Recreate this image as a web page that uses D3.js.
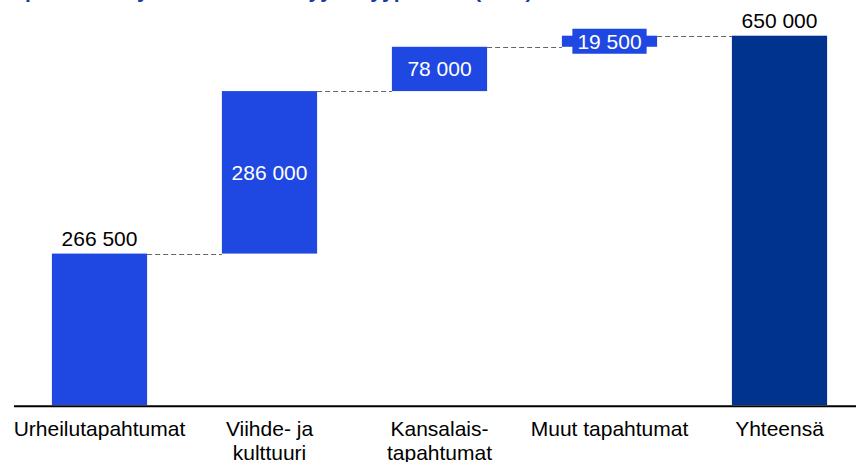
<!DOCTYPE html>
<html>
<head>
<meta charset="utf-8">
<script src="https://cdn.jsdelivr.net/npm/d3@7"></script>
<style>
  body { margin: 0; background: #fff; }
  svg { display: block; font-family: Arial, "Liberation Sans", sans-serif; }
</style>
</head>
<body>
<div id="chart"></div>
<script>
const categories = ['Urheilutapahtumat', 'Viihde- ja kulttuuri', 'Kansalais-tapahtumat', 'Muut tapahtumat', 'Yhteensä'];
const tickLines = [['Urheilutapahtumat'], ['Viihde- ja', 'kulttuuri'], ['Kansalais-', 'tapahtumat'], ['Muut tapahtumat'], ['Yhteensä']];
const values = [266500, 286000, 78000, 19500, 650000];
const isTotal = [false, false, false, false, true];
const titleText = 'Tapahtumien yhteenlaskettu myynti tyypeittäin (EUR)';

document.addEventListener('DOMContentLoaded', function() {
    const width = 856, height = 462;
    const blue = '#1f47e1', navy = '#00338d';

    const svg = d3.select('#chart').append('svg')
        .attr('width', width)
        .attr('height', height);

    // waterfall steps
    let running = 0;
    const steps = values.map((v, i) => {
        if (isTotal[i]) return { cat: categories[i], v: v, y0: 0, y1: v, total: true };
        const s = { cat: categories[i], v: v, y0: running, y1: running + v, total: false };
        running += v;
        return s;
    });

    const x = d3.scaleBand()
        .domain(categories)
        .range([14.5, 864.5])
        .paddingInner(0.44)
        .paddingOuter(0.22);

    const y = d3.scaleLinear()
        .domain([0, d3.max(values)])
        .range([405, 35.7]);

    const fmt = d3.formatLocale({ thousands: ' ', grouping: [3], decimal: ',', currency: ['', ''] }).format(',');

    // title (mostly cut off at the top, only descenders show)
    svg.append('text')
        .attr('x', 2)
        .attr('y', -2)
        .attr('fill', '#1a3a9e')
        .style('font-size', '21px')
        .style('font-weight', 'bold')
        .text(titleText);

    // connectors
    svg.append('g').selectAll('line')
        .data(steps.slice(0, -1))
        .enter()
        .append('line')
        .attr('x1', d => x(d.cat) + x.bandwidth())
        .attr('x2', (d, i) => x(steps[i + 1].cat))
        .attr('y1', d => Math.round(y(d.y1)) + 0.5)
        .attr('y2', d => Math.round(y(d.y1)) + 0.5)
        .attr('stroke', '#666')
        .attr('stroke-width', 1)
        .attr('stroke-dasharray', '5,3');

    // bars
    svg.append('g').selectAll('rect')
        .data(steps)
        .enter()
        .append('rect')
        .attr('x', d => x(d.cat))
        .attr('y', d => y(d.y1))
        .attr('width', x.bandwidth())
        .attr('height', d => y(d.y0) - y(d.y1))
        .attr('fill', d => d.total ? navy : blue);

    // axis line
    svg.append('line')
        .attr('x1', 14)
        .attr('x2', width)
        .attr('y1', 406.3)
        .attr('y2', 406.3)
        .attr('stroke', '#000')
        .attr('stroke-width', 2);

    // value labels
    const labels = svg.append('g').style('font-size', '21px');
    steps.forEach((d, i) => {
        const cx = x(d.cat) + x.bandwidth() / 2;
        const barH = y(d.y0) - y(d.y1);
        const outside = d.total || i === 0;
        if (outside) {
            labels.append('text')
                .attr('x', cx)
                .attr('y', y(d.y1) - 7.5)
                .attr('text-anchor', 'middle')
                .attr('fill', '#000')
                .text(fmt(d.v));
        } else {
            const cy = (y(d.y0) + y(d.y1)) / 2;
            const t = labels.append('text')
                .attr('x', cx)
                .attr('y', cy)
                .attr('dy', '0.35em')
                .attr('text-anchor', 'middle')
                .attr('fill', '#fff')
                .text(fmt(d.v));
            if (barH < 25) {
                const w = t.node().getComputedTextLength();
                labels.insert('rect', function() { return t.node(); })
                    .attr('x', cx - w / 2 - 5)
                    .attr('y', cy - 12.5)
                    .attr('width', w + 10)
                    .attr('height', 25)
                    .attr('fill', blue);
            }
        }
    });

    // category labels
    const ticks = svg.append('g').style('font-size', '21px');
    categories.forEach((c, i) => {
        const t = ticks.append('text')
            .attr('x', x(c) + x.bandwidth() / 2)
            .attr('y', 436)
            .attr('text-anchor', 'middle')
            .attr('fill', '#000');
        tickLines[i].forEach((line, j) => {
            t.append('tspan')
                .attr('x', x(c) + x.bandwidth() / 2)
                .attr('dy', j === 0 ? 0 : 24)
                .text(line);
        });
    });
});
</script>
</body>
</html>
